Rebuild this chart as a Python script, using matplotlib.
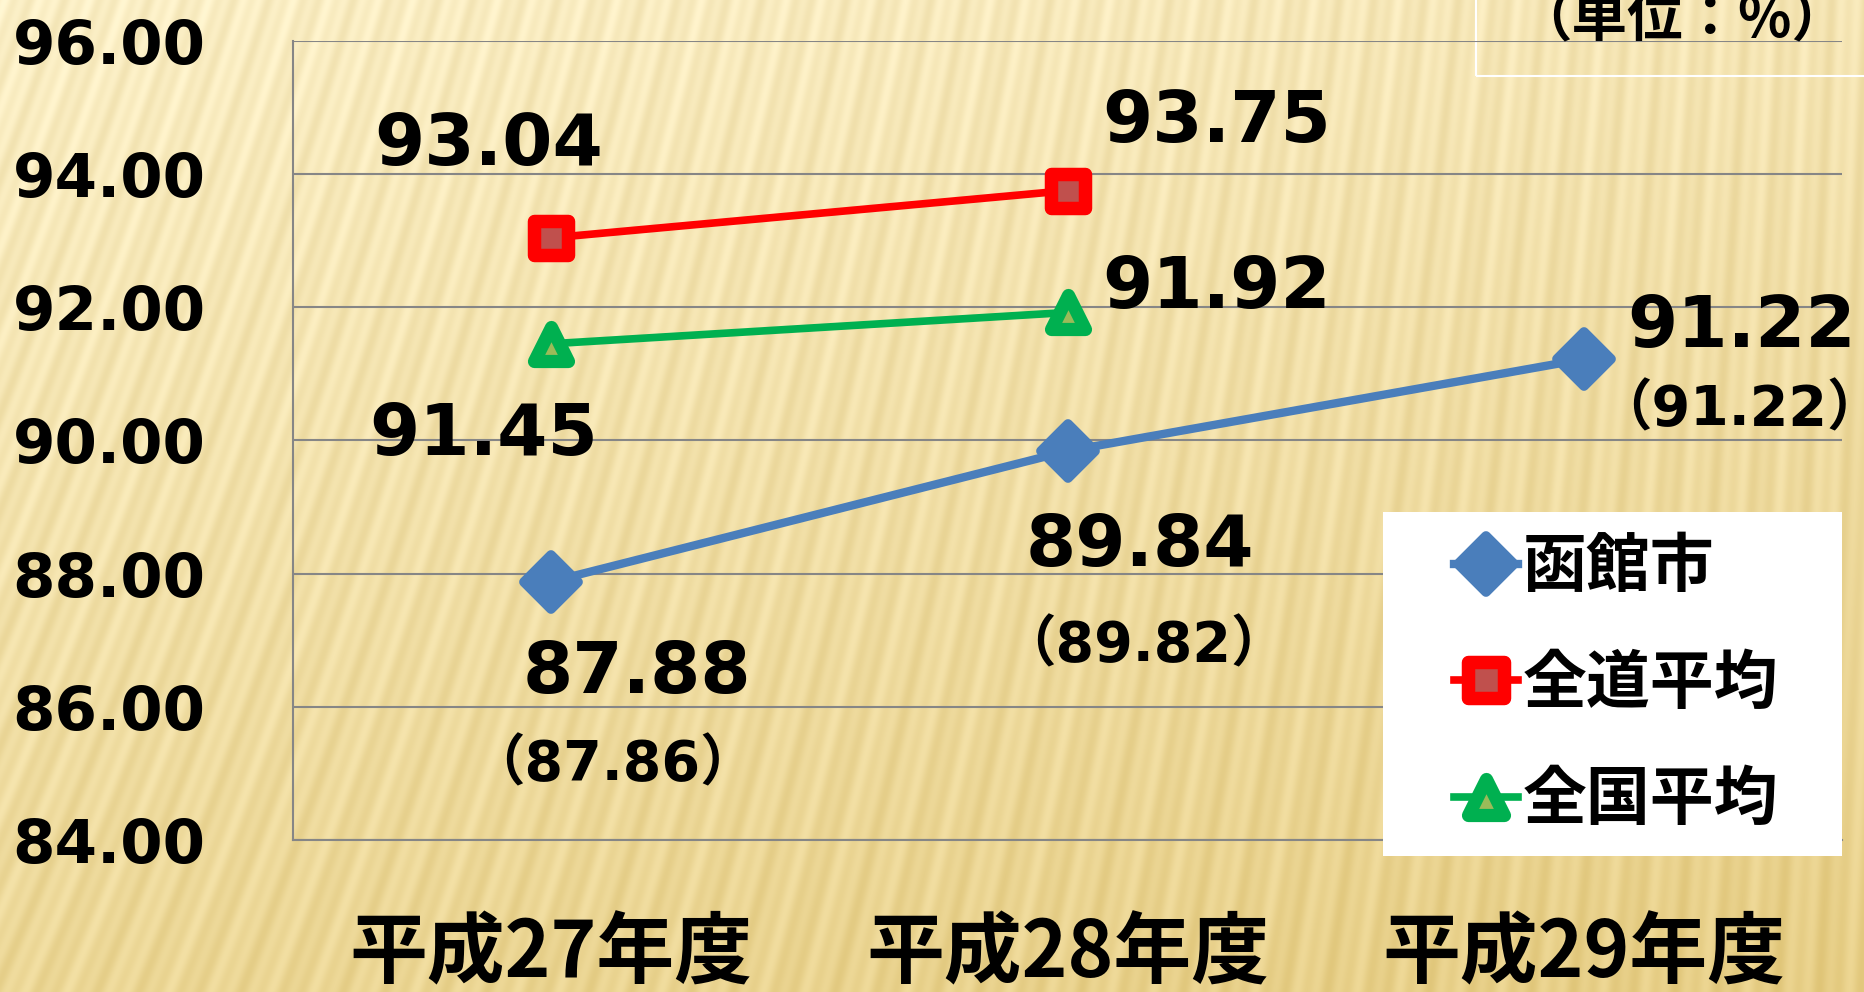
import numpy as np
import matplotlib.pyplot as plt
from matplotlib.markers import MarkerStyle
from matplotlib.patches import Rectangle

plt.rcParams['font.family'] = ['DejaVu Sans', 'Noto Sans CJK JP']

# data
years = ['平成27年度', '平成28年度', '平成29年度']
hakodate = [87.88, 89.84, 91.22]
hakodate_sub = ['（87.86）', '（89.82）', '（91.22）']
hokkaido = [93.04, 93.75]
national = [91.45, 91.92]
names = ['函館市', '全道平均', '全国平均']
yticks = [84, 86, 88, 90, 92, 94, 96]

W, H = 1864, 992
fig = plt.figure(figsize=(W / 100, H / 100), dpi=100)

# gold striped background
bg = fig.add_axes([0, 0, 1, 1], zorder=-10)
yy, xx = np.mgrid[0:H, 0:W].astype(float)
phase = xx + yy * (0.36 - 0.32 * xx / W)
s = 0.55 * np.sin(2 * np.pi * phase / 17) + 0.45 * np.sin(2 * np.pi * phase / 41 + 1.0)
t = (yy / H)[..., None]
top = np.array([251, 239, 198]) / 255
bot = np.array([236, 215, 150]) / 255
base = top * (1 - t) + bot * t
base = base - (xx / W)[..., None] * np.array([6, 10, 18]) / 255
img = base + s[..., None] * np.array([7, 9, 14]) / 255
bg.imshow(np.clip(img, 0, 1), extent=[0, W, H, 0], aspect='auto')
bg.set_axis_off()

# unit box
fig.add_artist(Rectangle((1476 / W, 1 - 76 / H), 0.5, 0.5, transform=fig.transFigure,
                         fill=False, edgecolor='white', lw=1.5, zorder=-5))
fig.text(1682 / W, 1 - 20 / H, '（単位：%）', fontsize=40, fontweight='bold',
         family=['Noto Sans CJK JP'], ha='center', va='center')

ax = fig.add_axes([293 / W, 1 - 840 / H, (1842 - 293) / W, (840 - 40.7) / H])
ax.patch.set_alpha(0)
x = np.arange(len(years))

l1, = ax.plot(x, hakodate, color='#4A7EBB', lw=6,
              marker=MarkerStyle('D', joinstyle='round'), ms=27,
              mfc='#4A7EBB', mec='#4A7EBB', mew=7, zorder=3)
l2, = ax.plot(x[:2], hokkaido, color='#FF0000', lw=5.5,
              marker=MarkerStyle('s', joinstyle='round'), ms=24,
              mfc='#C0504D', mec='#FF0000', mew=9.7, zorder=3)
l3, = ax.plot(x[:2], national, color='#00B050', lw=5.5,
              marker=MarkerStyle('^', joinstyle='round'), ms=25,
              mfc='#9BBB59', mec='#00B050', mew=9.5, zorder=3)

ax.set_xlim(-0.5, 2.5)
ax.set_ylim(84, 96)
ax.set_yticks(yticks)
ax.set_yticklabels(['%.2f' % v for v in yticks], fontsize=44, fontweight='bold')
ax.set_xticks(x)
ax.set_xticklabels(years, fontsize=56, fontweight='bold', family=['Noto Sans CJK JP'])
ax.tick_params(axis='y', length=0, pad=63)
ax.tick_params(axis='x', length=0, pad=54)
ax.yaxis.grid(True, color='#868686', lw=1.5)
ax.set_axisbelow(True)
for side in ['top', 'right']:
    ax.spines[side].set_visible(False)
for side in ['left', 'bottom']:
    ax.spines[side].set_color('#868686')
    ax.spines[side].set_linewidth(1.5)

big = dict(fontsize=52, fontweight='bold', ha='center', va='center',
           textcoords='offset pixels')
ax.annotate('%.2f' % hokkaido[0], (x[0], hokkaido[0]), xytext=(-62, 92), **big)
ax.annotate('%.2f' % hokkaido[1], (x[1], hokkaido[1]), xytext=(149, 68), **big)
ax.annotate('%.2f' % national[0], (x[0], national[0]), xytext=(-68, -92), **big)
ax.annotate('%.2f' % national[1], (x[1], national[1]), xytext=(149, 24), **big)
ax.annotate('%.2f' % hakodate[0], (x[0], hakodate[0]), xytext=(86, -92), **big)
ax.annotate('%.2f' % hakodate[1], (x[1], hakodate[1]), xytext=(72, -95), **big)
ax.annotate('%.2f' % hakodate[2], (x[2], hakodate[2]), xytext=(158, 32), **big)

small = dict(fontsize=40, fontweight='bold', ha='center', va='center',
             textcoords='offset pixels')
ax.annotate(hakodate_sub[0], (x[0], hakodate[0]), xytext=(61, -184), **small)
ax.annotate(hakodate_sub[1], (x[1], hakodate[1]), xytext=(76, -195), **small)
ax.annotate(hakodate_sub[2], (x[2], hakodate[2]), xytext=(156, -51), **small)

# legend on white box
fig.add_artist(Rectangle((1383 / W, 1 - 856 / H), (1842 - 1383) / W, (856 - 512) / H,
                         transform=fig.transFigure, facecolor='white',
                         edgecolor='none', zorder=5))
leg = fig.legend([l1, l2, l3], names, loc='center left',
                 bbox_to_anchor=(1454 / W, 1 - 684 / H), frameon=False,
                 prop={'family': ['Noto Sans CJK JP'], 'weight': 'bold', 'size': 46},
                 handlelength=1.0, handletextpad=0.07, labelspacing=0.8,
                 borderpad=0, borderaxespad=0, numpoints=1, markerscale=1.05)
leg.set_zorder(6)

fig.savefig('out.png', dpi=100)
